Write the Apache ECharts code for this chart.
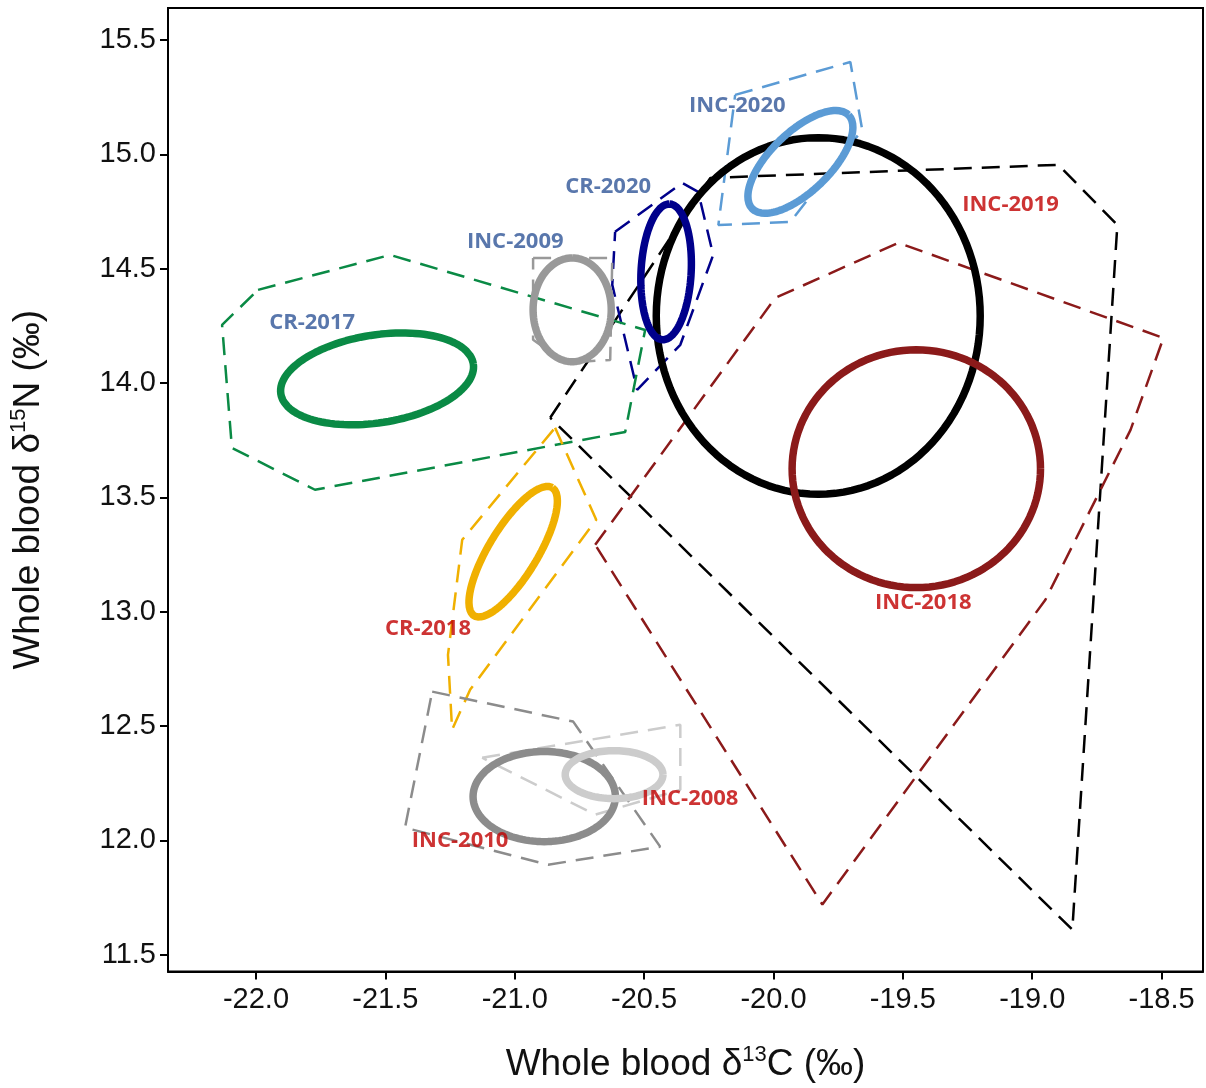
<!DOCTYPE html>
<html><head><meta charset="utf-8">
<script src="https://cdn.jsdelivr.net/npm/echarts@6/dist/echarts.min.js"></script>
<style>html,body{margin:0;padding:0;background:#fff}#c{width:1206px;height:1088px}</style>
</head><body><div id="c"></div>
<script>
const xTicks=[-22.0,-21.5,-21.0,-20.5,-20.0,-19.5,-19.0,-18.5];
const yTicks=[11.5,12.0,12.5,13.0,13.5,14.0,14.5,15.0,15.5];
const groups=['INC-2019','INC-2018','INC-2020','CR-2020','INC-2009','CR-2017','CR-2018','INC-2010','INC-2008'];
const colors=['#000000','#8b1a1a','#5b9bd5','#00008b','#999999','#0a8a45','#f0b000','#8c8c8c','#cccccc'];
// ellipse: center x, center y, half-axis vector u (dx,dy), half-axis vector v (dx,dy)
const ellipses=[
 [-19.827,14.293, 0.626,0, 0,0.78],
 [-19.448,13.625, 0.48,0, 0,0.52],
 [-19.896,14.967, 0.186,0.205, 0.081,-0.092],
 [-20.415,14.486, 0.012,0.297, 0.097,0],
 [-20.778,14.32, 0,0.227, 0.151,0],
 [-21.532,14.018, 0.372,0.065, 0.025,-0.19],
 [-21.006,13.262, 0.151,0.280, 0.08,-0.056],
 [-20.886,12.191, 0.275,0, 0,0.197],
 [-20.616,12.287, 0.189,0, 0,0.105]
];
const hulls=[
 [[-20.863,13.848],[-20.244,14.897],[-18.899,14.954],[-18.671,14.691],[-18.845,11.609]],
 [[-20.689,13.292],[-19.993,14.372],[-19.517,14.613],[-18.493,14.197],[-18.620,13.795],[-18.949,13.052],[-19.811,11.719]],
 [[-20.148,15.260],[-19.703,15.404],[-19.657,15.107],[-19.935,14.704],[-20.213,14.691]],
 [[-20.612,14.661],[-20.353,14.875],[-20.291,14.836],[-20.233,14.560],[-20.360,14.167],[-20.527,13.970],[-20.623,14.429]],
 [[-20.929,14.547],[-20.623,14.547],[-20.631,14.101],[-20.805,14.088],[-20.929,14.189]],
 [[-21.992,14.407],[-21.482,14.560],[-20.496,14.232],[-20.573,13.786],[-21.772,13.533],[-22.093,13.716],[-22.131,14.254]],
 [[-20.844,13.804],[-20.685,13.402],[-21.172,12.659],[-21.242,12.484],[-21.258,12.811],[-21.203,13.314]],
 [[-21.319,12.650],[-20.774,12.519],[-20.438,11.972],[-20.871,11.893],[-21.424,12.055]],
 [[-21.126,12.361],[-20.360,12.505],[-20.360,12.221],[-20.689,12.112]]
];
const labelPos=[[-19.084,14.779],[-19.421,13.039],[-20.140,15.211],[-20.639,14.857],[-20.998,14.617],[-21.783,14.263],[-21.335,12.925],[-21.211,11.998],[-20.322,12.182]];
const labelColors=['#c00000','#c00000','#2f5597','#2f5597','#2f5597','#2f5597','#c00000','#c00000','#c00000'];

const series=[];
groups.forEach((g,i)=>{
  const h=hulls[i].concat([hulls[i][0]]);
  series.push({type:'line',data:h,symbol:'none',silent:true,lineStyle:{color:colors[i],width:2.5,type:[18,10]},z:2});
  const e=ellipses[i],pts=[];
  for(let k=0;k<=120;k++){const t=2*Math.PI*k/120;pts.push([e[0]+e[2]*Math.cos(t)+e[4]*Math.sin(t),e[1]+e[3]*Math.cos(t)+e[5]*Math.sin(t)]);}
  series.push({type:'line',data:pts,symbol:'none',silent:true,smooth:false,lineStyle:{color:colors[i],width:7.5},z:3});
});
series.push({type:'scatter',symbolSize:0,z:5,data:groups.map((g,i)=>({value:labelPos[i],name:g,label:{show:true,formatter:g,position:'inside',color:labelColors[i],fontWeight:'bold',fontSize:22,fontFamily:'Open Sans'}}))});

const chart=echarts.init(document.getElementById('c'));
chart.setOption({
  animation:false,
  grid:{left:168,right:3,top:8,bottom:116,show:true,borderColor:'#000',borderWidth:2},
  xAxis:{type:'value',min:-22.34,max:-18.34,axisLine:{show:true,onZero:false,lineStyle:{color:'#000',width:2}},splitLine:{show:false},
    axisTick:{show:true,customValues:xTicks,length:8,lineStyle:{color:'#000',width:2}},
    axisLabel:{customValues:xTicks,formatter:v=>v.toFixed(1),fontSize:29,color:'#111',fontFamily:'Liberation Sans',margin:14},
    name:'{a|Whole blood δ}{s|13}{a|C (‰)}',nameLocation:'middle',nameGap:72,
    nameTextStyle:{rich:{a:{fontSize:37,fontFamily:'Liberation Sans',color:'#111'},s:{fontSize:22,fontFamily:'Liberation Sans',color:'#111',padding:[0,0,20,0]}}}},
  yAxis:{type:'value',min:11.426,max:15.64,axisLine:{show:true,onZero:false,lineStyle:{color:'#000',width:2}},splitLine:{show:false},
    axisTick:{show:true,customValues:yTicks,length:8,lineStyle:{color:'#000',width:2}},
    axisLabel:{customValues:yTicks,formatter:v=>v.toFixed(1),fontSize:29,color:'#111',fontFamily:'Liberation Sans',margin:12},
    name:'{a|Whole blood δ}{s|15}{a|N (‰)}',nameLocation:'middle',nameGap:118,nameRotate:90,
    nameTextStyle:{rich:{a:{fontSize:37,fontFamily:'Liberation Sans',color:'#111'},s:{fontSize:22,fontFamily:'Liberation Sans',color:'#111',padding:[0,0,20,0]}}}},
  series
});
</script></body></html>
